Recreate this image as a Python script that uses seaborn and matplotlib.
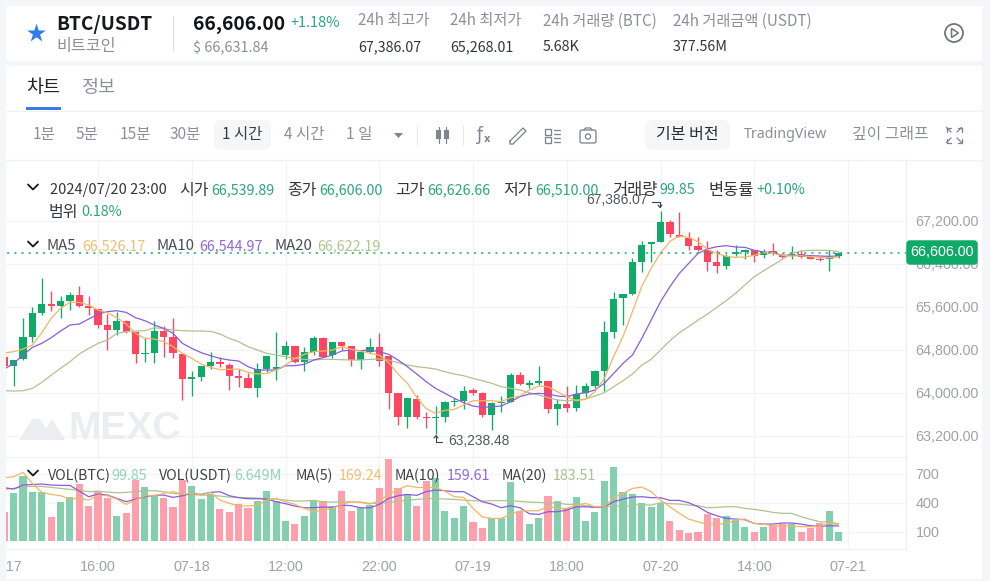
import numpy as np
import pandas as pd
import seaborn as sns
import matplotlib
matplotlib.use("Agg")
import matplotlib.pyplot as plt
from matplotlib.patches import FancyBboxPatch, Rectangle, Circle, Polygon

# ---------- data ----------
opens = [64660,64505,64623,65044,65490,65657,65614,65713,65825,65614,65564,65267,65174,65329,65125,64716,64734,65143,65032,64728,
         64251,64300,64505,64573,64517,64313,64270,64084,64443,64443,64703,64871,64579,64765,65013,64703,64939,64871,64610,64765,
         64846,64685,63991,63551,63892,63551,63532,63551,63830,63854,64046,63991,63588,63817,63836,64338,64152,64189,64220,63693,
         63792,63712,63991,64127,64406,65125,65757,65843,66432,66766,66804,67175,66934,66878,66729,66655,66426,66364,66574,66618,
         66649,66556,66630,66562,66543,66581,66519,66481,66488,66539.89]
highs = [64703,64610,65385,65589,66128,65893,65800,65868,65986,65800,65564,65465,65509,65354,65125,65013,65335,65248,65385,64728,
         64400,64499,64753,64672,64561,64443,64375,64548,64685,65125,64963,64871,64858,65056,65032,64939,64939,64871,64753,65013,
         65106,64685,63991,63898,63953,63650,63755,63848,63898,64127,64084,64022,63836,63941,64362,64393,64239,64499,64220,63879,
         64127,64146,64177,64424,65335,65880,65843,66500,66822,66797,67386.07,67213,67355,66983,66903,66816,66655,66581,66748,66667,
         66649,66674,66779,66593,66723,66655,66562,66519,66655,66626.66]
lows = [64455,64133,64610,64945,65453,65527,65385,65540,65589,65447,65199,64796,65081,65106,64561,64567,64548,64660,64641,63867,
        63941,64226,64449,64474,64053,64115,64084,63916,64393,64239,64635,64548,64412,64703,64660,64641,64796,64499,64449,64734,
        64505,63706,63402,63340,63507,63340,63238.48,63464,63755,63706,63960,63545,63309,63650,63836,64146,64084,64146,63619,63402,
        63644,63669,63929,64084,64034,65013,65261,65818,66240,66426,66804,66903,66903,66655,66643,66271,66221,66308,66543,66481,
        66426,66500,66562,66500,66481,66500,66481,66457,66271,66510]
closes = [64499,64610,65032,65490,65651,65614,65707,65825,65614,65577,65267,65174,65329,65125,64716,64734,65143,65044,64734,64251,
          64288,64499,64567,64530,64319,64282,64084,64443,64685,64474,64871,64579,64753,65013,64660,64939,64877,64610,64753,64846,
          64598,63991,63551,63898,63551,63532,63557,63830,63848,64028,64003,63588,63817,63836,64338,64158,64177,64214,63693,63792,
          63712,63978,64127,64406,65125,65750,65843,66426,66748,66797,67169,66946,66903,66729,66655,66432,66364,66550,66612,66655,
          66550,66612,66593,66531,66574,66531,66488,66469,66512,66606]

ma5 = [64740,64765,64815,64889,65118,65385,65571,65682,65682,65633,65540,65490,65397,65279,65106,65013,65001,64951,64858,64734,
       64641,64536,64474,64431,64437,64443,64381,64350,64362,64424,64517,64641,64716,64765,64778,64796,64858,64809,64778,64734,
       64703,64561,64350,64177,63916,63706,63619,63675,63693,63774,63854,63854,63854,63836,63910,63941,64053,64127,64115,64022,
       63929,63854,63879,64022,64269,64678,65050,65509,65980,66314,66599,66816,66915,66890,66810,66667,66593,66537,66519,66525,
       66556,66605,66605,66556,66543,66550,66531,66512,66512,66526.17]
ma10 = [64443,64548,64703,64846,64920,65025,65149,65261,65279,65372,65465,65509,65527,65496,65397,65341,65261,65199,65106,64920,
        64827,64747,64691,64641,64610,64592,64486,64424,64424,64424,64505,64505,64530,64610,64654,64703,64778,64796,64784,64796,
        64765,64716,64610,64486,64350,64208,64084,63991,63898,63817,63755,63730,63743,63755,63836,63929,63978,63991,63978,63941,
        63929,63978,64003,64053,64177,64362,64548,64703,65013,65354,65695,65973,66221,66407,66593,66674,66717,66736,66711,66705,
        66649,66618,66605,66556,66556,66556,66550,66543,66537,66544.97]
ma20 = [64040,64034,64040,64084,64195,64331,64455,64579,64722,64827,64920,64982,65106,65137,65149,65156,65211,65193,65168,65156,
        65149,65149,65143,65094,65013,64951,64858,64796,64734,64703,64672,64641,64623,64610,64623,64623,64616,64610,64610,64623,
        64629,64610,64561,64517,64486,64468,64443,64393,64350,64319,64269,64226,64177,64115,64084,64053,64003,63960,63910,63867,
        63854,63867,63885,63941,64003,64115,64226,64350,64517,64623,64796,64970,65118,65230,65354,65465,65589,65713,65849,66004,
        66159,66271,66376,66481,66593,66636,66649,66649,66649,66622.19]

volumes = [300,500,676,510,507,252,407,455,589,369,524,448,265,290,634,562,472,448,358,634,
           576,434,489,331,303,383,345,421,524,421,214,176,265,431,417,365,524,317,341,376,
           548,848,548,486,369,624,651,317,238,365,200,138,238,238,610,317,176,238,472,421,
           341,458,214,303,624,765,507,486,393,358,393,214,121,83,97,286,238,259,217,148,
           97,148,162,176,176,97,138,186,314,99.85]
vol_ma5 = [658,669,714,600,507,486,472,438,445,427,479,472,438,383,427,472,472,496,514,486,
           496,479,507,427,393,369,365,376,427,445,410,383,341,307,324,341,383,410,403,386,
           417,486,538,576,558,558,558,520,462,455,341,252,238,238,279,314,317,317,365,341,
           341,376,393,358,358,452,496,548,562,514,427,358,290,231,203,176,176,186,221,231,
           186,176,162,162,159,152,152,152,193,169.24]
vol_ma10 = [555,541,583,589,593,583,579,579,520,462,489,479,445,410,438,462,476,479,455,472,
            496,486,507,514,472,452,441,441,438,410,390,365,348,348,355,352,376,369,348,348,
            383,445,472,486,476,514,531,524,514,514,462,410,386,348,369,348,286,279,307,307,
            324,358,358,352,358,410,438,458,462,452,452,424,424,400,358,300,265,238,231,224,
            186,179,179,190,190,179,162,155,162,159.61]
vol_ma20 = [538,548,565,569,569,558,548,538,527,514,520,510,503,507,514,524,524,514,496,489,
            483,479,476,469,458,455,452,448,438,438,427,417,417,424,407,407,407,410,407,393,
            393,400,417,427,434,441,445,438,434,427,421,417,421,421,421,414,407,403,400,396,
            383,383,369,358,352,369,358,376,379,376,400,390,386,376,369,348,352,358,358,341,
            331,317,300,290,290,255,228,203,200,183.51]

x_tick_pos = [0,10,20,30,40,50,60,70,80,90]
x_tick_labels = ['07-17','16:00','07-18','12:00','22:00','07-19','18:00','07-20','14:00','07-21']
price_ticks = [63200,64000,64800,65600,66400,67200]
vol_ticks = [100,400,700]
last_price = 66606.0

# ---------- styling ----------
sns.set_theme(style="white")
plt.rcParams['font.family'] = ['Noto Sans CJK KR', 'DejaVu Sans']
plt.rcParams['axes.unicode_minus'] = False

UP, DOWN = '#0FA968', '#FF4560'
UP_V, DOWN_V = '#84CFAD', '#FF9FAC'
C5, C10, C20 = '#F2B566', '#8A5CDD', '#AFC38E'
GRID = '#F3F4F6'
GRAY = '#8F949C'
TICK = '#9EA3AB'
DARK = '#33363B'
NUMG = '#2BA57F'

W, H = 990, 581
fig = plt.figure(figsize=(W/100, H/100), dpi=100, facecolor='#F4F6FA')
def axpx(x0, y0, x1, y1, **k):
    return fig.add_axes([x0/W, 1-y1/H, (x1-x0)/W, (y1-y0)/H], **k)

bg = axpx(0, 0, W, H, zorder=-5); bg.set_xlim(0, W); bg.set_ylim(H, 0); bg.axis('off')
bg.add_patch(Rectangle((6, 6), 976, 55, fc='white', ec='none'))
bg.add_patch(Rectangle((6, 66), 976, 513, fc='white', ec='none'))

idx = np.arange(len(closes))
df = pd.DataFrame(dict(i=idx, o=opens, h=highs, l=lows, c=closes, v=volumes,
                       m5=ma5, m10=ma10, m20=ma20, v5=vol_ma5, v10=vol_ma10, v20=vol_ma20))
df['dir'] = np.where(df.c >= df.o, 'up', 'down')

XLIM = (-4.3/9.375, (906-4.3)/9.375)

# ---------- price pane ----------
ax = axpx(0, 160, 906, 457, zorder=1)
ax.set_facecolor('none')
colors = df['dir'].map({'up': UP, 'down': DOWN}).values
ax.vlines(df.i, df.l, df.h, colors=colors, lw=0.95, zorder=3)
ax.bar(df.i, np.maximum(np.abs(df.c-df.o), 12), bottom=np.minimum(df.c, df.o),
       width=0.78, color=colors, lw=0, zorder=3)
for col, c in [('m20', C20), ('m10', C10), ('m5', C5)]:
    sns.lineplot(data=df, x='i', y=col, ax=ax, color=c, lw=0.9, estimator=None, errorbar=None, zorder=4)
ax.axhline(last_price, color=UP, lw=1.1, ls=(0, (1.3, 3.4)), zorder=5)
ax.set_xlim(*XLIM)
ax.set_ylim(67200-(457-220.7)/0.0538, 67200+(220.7-160)/0.0538)
ax.set_xticks(x_tick_pos); ax.set_xticklabels([])
ax.set_yticks(price_ticks)
ax.set_yticklabels([f'{p:,.2f}' for p in price_ticks], family='Liberation Sans', fontsize=10.4, color=TICK)
ax.yaxis.tick_right()
ax.tick_params(length=0, axis='y', pad=7)
ax.tick_params(length=0, axis='x')
ax.grid(True, color=GRID, lw=0.9, zorder=0)
ax.set_axisbelow(True)
ax.set_xlabel(''); ax.set_ylabel('')
for n, s in ax.spines.items():
    s.set_visible(n in ('top', 'right', 'bottom')); s.set_color('#EEF0F2'); s.set_linewidth(0.9)
# extreme annotations
ax.annotate('67,386.07', xy=(70, 67386.07), xytext=(648, 380.5), textcoords='figure pixels',
            family='Liberation Sans', fontsize=9.9, color='#55585E', ha='right', va='center', annotation_clip=False, zorder=6)
ax.annotate('63,238.48', xy=(46, 63238.48), xytext=(448, 140), textcoords='figure pixels',
            family='Liberation Sans', fontsize=9.9, color='#55585E', ha='left', va='center', annotation_clip=False, zorder=6)

# watermark
ax.text(68/906, 1-(429-160)/297, 'MEXC', transform=ax.transAxes, family='Liberation Sans', fontweight='bold',
        fontsize=28, color='#EBEDF0', ha='left', va='center', zorder=1)

# ---------- volume pane ----------
vx = axpx(0, 457, 906, 549, zorder=1)
vx.set_facecolor('none')
sns.barplot(data=df, x='i', y='v', hue='dir', native_scale=True, dodge=False, ax=vx,
            palette={'up': UP_V, 'down': DOWN_V}, saturation=1, width=0.76, linewidth=0,
            legend=False, errorbar=None, zorder=2)
for col, c in [('v20', C20), ('v10', C10), ('v5', C5)]:
    sns.lineplot(data=df, x='i', y=col, ax=vx, color=c, lw=0.9, estimator=None, errorbar=None, zorder=4)
vx.set_xlim(*XLIM)
vx.set_ylim(-(549-541.4)*10.34, (541.4-457)*10.34)
vx.set_xticks(x_tick_pos)
vx.set_xticklabels(x_tick_labels, family='Liberation Sans', fontsize=10.4, color=TICK)
vx.set_yticks(vol_ticks)
vx.set_yticklabels([str(v) for v in vol_ticks], family='Liberation Sans', fontsize=10.4, color=TICK)
vx.yaxis.tick_right()
vx.tick_params(length=0, axis='y', pad=7)
vx.tick_params(length=0, axis='x', pad=8)
vx.grid(True, color=GRID, lw=0.9)
vx.set_axisbelow(True)
vx.set_xlabel(''); vx.set_ylabel('')
for n, s in vx.spines.items():
    s.set_visible(n in ('right', 'bottom')); s.set_color('#EEF0F2'); s.set_linewidth(0.9)

# ---------- overlay UI ----------
ui = axpx(0, 0, W, H, zorder=10); ui.set_xlim(0, W); ui.set_ylim(H, 0); ui.axis('off'); ui.patch.set_alpha(0)
ui.add_patch(Rectangle((0, 66), 6, 513, fc='#F4F6FA', ec='none'))

def T(x, y, s, px=14, c=GRAY, w='normal', ha='left', fam=None):
    k = {}
    if fam: k['family'] = fam
    ui.text(x, y, s, fontsize=px*0.72, color=c, fontweight=w, ha=ha, va='center', **k)
def L(xs, ys, c='#7F858E', lw=1.1):
    ui.plot(xs, ys, color=c, lw=lw, solid_capstyle='round', solid_joinstyle='round')

# header
ui.scatter([36], [33], marker='*', s=200, color='#2F7BF0', lw=0)
T(56, 25, 'BTC/USDT', 19, '#17181A', 'bold')
T(56, 47, '비트코인', 16.2, '#8B9098')
L([172.5, 172.5], [16, 51], '#DDDFE2', 0.8)
T(193, 25, '66,606.00', 19.2, '#121315', 'bold')
T(290, 23, '+1.18%', 14.5, NUMG)
T(193, 48, '$ 66,631.84', 14.5, '#8B9098')
for x, a, b in [(358, '24h 최고가', '67,386.07'), (450, '24h 최저가', '65,268.01'),
                (543, '24h 거래량 (BTC)', '5.68K'), (673, '24h 거래금액 (USDT)', '377.56M')]:
    T(x, 21, a, 15.2, '#8B9098')
    T(x, 47, b, 14.3, DARK)
ui.add_patch(Circle((954, 33), 9, fc='none', ec='#70767F', lw=1.3))
ui.add_patch(Polygon([[951.5, 28.5], [951.5, 37.5], [958.5, 33]], closed=True, fc='none', ec='#70767F', lw=1.1))

# tabs
T(26, 88, '차트', 18.5, '#202226')
T(81, 88, '정보', 18.5, '#8B9098')
ui.add_patch(Rectangle((26, 107), 34.5, 3, fc='#3B7BE8', ec='none'))
L([6, 982], [110.5, 110.5], '#EEF0F2', 0.8)
L([6, 982], [160, 160], '#EEF0F2', 0.8)

# toolbar
ui.add_patch(FancyBboxPatch((217, 123), 51, 24, boxstyle='round,pad=0,rounding_size=4', mutation_aspect=1,
                            fc='#F5F6F8', ec='#F5F6F8', lw=4))
ui.add_patch(FancyBboxPatch((648, 123), 79, 24, boxstyle='round,pad=0,rounding_size=4',
                            fc='#F5F6F8', ec='#F5F6F8', lw=4))
for x, s in [(33, '1분'), (76, '5분'), (120, '15분'), (170, '30분'), (284, '4 시간'), (346, '1 일')]:
    T(x, 135, s, 15.5, '#8B9098')
T(222, 135, '1 시간', 15.4, '#3A3D42')
T(656, 135, '기본 버전', 16, '#2A2C30')
T(744, 135, 'TradingView', 14.2, '#8B9098', fam='Noto Sans')
T(852, 135, '깊이 그래프', 15.9, '#8B9098')
ui.add_patch(Polygon([[394, 133], [403, 133], [398.5, 138]], closed=True, fc='#7F858E', ec='none'))
L([416.5, 416.5], [125, 145], '#E8EAED', 0.8)
L([462.5, 462.5], [125, 145], '#E8EAED', 0.8)
for x in (438.5, 446):
    L([x, x], [127, 143], '#7F858E', 0.9)
    ui.add_patch(Rectangle((x-2.5, 130), 5, 9, fc='#7F858E', ec='none'))
T(476, 135, 'ƒ', 17, '#7F858E', fam='DejaVu Sans')
T(484, 139, 'x', 10, '#7F858E', 'bold', fam='DejaVu Sans')
L([510, 523, 526, 513, 510, 510], [141, 128, 131, 144, 144, 141], '#7F858E', 0.95)
for y in (129, 137):
    ui.add_patch(Rectangle((545, y), 6, 6, fc='none', ec='#7F858E', lw=0.95))
    L([554, 560], [y+0.5, y+0.5], '#7F858E', 0.95); L([554, 560], [y+5, y+5], '#7F858E', 0.95)
ui.add_patch(FancyBboxPatch((580, 130), 16, 13, boxstyle='round,pad=0,rounding_size=2', fc='none', ec='#7F858E', lw=0.95))
ui.add_patch(Circle((588, 136.5), 2.6, fc='none', ec='#7F858E', lw=0.95))
L([584, 585.5, 590.5, 592], [130, 128, 128, 130], '#7F858E', 0.95)
for sx, sy in [(-1, -1), (1, -1), (-1, 1), (1, 1)]:
    cx, cy = 954+sx*7.5, 135+sy*7.5
    L([cx-sx*4, cx, cx], [cy, cy, cy-sy*4], '#7F858E', 0.95)
    L([cx, cx-sx*4.5], [cy, cy-sy*4.5], '#7F858E', 0.95)

# chart legends
def chevron(x, y):
    L([x-5, x, x+5], [y-2.5, y+2.5, y-2.5], '#17181A', 1.3)
chevron(33, 187)
T(50, 190, '2024/07/20 23:00', 14.6, DARK)
for x, s, px in [(179, '시가', 16), (287, '종가', 16), (395, '고가', 16), (503, '저가', 16), (612, '거래량', 16.5), (708, '변동률', 16.5), (49, '범위', 16)]:
    T(x, 212 if s == '범위' else 190.5, s, px, DARK)
for x, s in [(211, '66,539.89'), (319, '66,606.00'), (427, '66,626.66'), (535, '66,510.00'), (659, '99.85'), (756, '+0.10%')]:
    T(x, 190, s, 14.3, NUMG)
T(81, 212, '0.18%', 14.3, NUMG)
chevron(33, 244)
for x, s, v, c in [(47, 'MA5', '66,526.17', '#F2BE72'), (156, 'MA10', '66,544.97', '#8F68DD'), (274, 'MA20', '66,622.19', '#B0C48F')]:
    T(x, 246.5, s, 15, '#4A4D52')
    T(x+(35 if s == 'MA5' else 43), 246.5, v, 14.3, c)
chevron(33, 473)
for x, s, xv, v, c in [(48, 'VOL(BTC)', 111, '99.85', '#8FD3B5'), (159, 'VOL(USDT)', 234, '6.649M', '#8FD3B5'),
                       (296, 'MA(5)', 339, '169.24', '#F2BE72'), (395, 'MA(10)', 447, '159.61', '#8F68DD'),
                       (502, 'MA(20)', 553, '183.51', '#A9C08F')]:
    T(x, 475.5, s, 14.2, '#3F4247')
    T(xv, 475.5, v, 14.3, c)

# extreme arrows
L([652, 660, 660], [201.5, 201.5, 207], '#3A3D42', 0.8)
L([658, 660, 662], [205, 207.5, 205], '#3A3D42', 0.8)
L([436, 436, 442], [435.5, 441.5, 441.5], '#3A3D42', 0.8)
L([434, 436, 438], [438, 435.5, 438], '#3A3D42', 0.8)

# last price box
ui.add_patch(FancyBboxPatch((908, 242), 68, 21, boxstyle='round,pad=0,rounding_size=2',
                            fc=UP, ec=UP, lw=2.5))
T(942, 252, '66,606.00', 14.2, 'white', ha='center', fam='Liberation Sans')

# watermark logo
wm = '#EBEDF0'
ax.add_patch(Polygon([[19, 440], [32, 419], [40, 419], [49, 433], [42, 440]], closed=True, transform=ui.transData, fc=wm, ec='none', zorder=1))
ax.add_patch(Polygon([[38, 440], [47, 427], [52, 419], [55, 424], [65, 440]], closed=True, transform=ui.transData, fc=wm, ec='none', zorder=1))

fig.savefig('out.png', dpi=100, facecolor=fig.get_facecolor())
